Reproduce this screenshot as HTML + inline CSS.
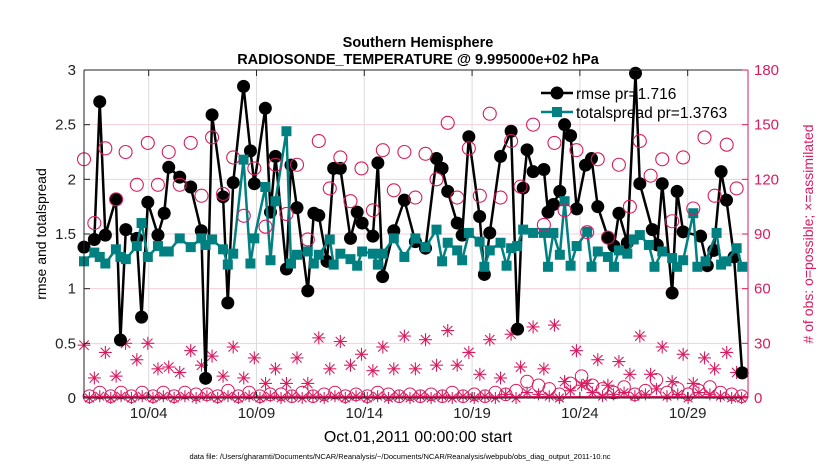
<!DOCTYPE html>
<html><head><meta charset="utf-8"><style>
html,body{margin:0;padding:0;background:#fff;}
svg{display:block;font-family:"Liberation Sans",Arial,sans-serif;}
</style></head><body>
<svg id="chart" width="830" height="470" viewBox="0 0 830 470" xmlns="http://www.w3.org/2000/svg">
<rect x="0" y="0" width="830" height="470" fill="#fff"/>
<g id="grid"></g>
<g id="marks"></g>
<g id="axes"></g>
<text x="418" y="47" text-anchor="middle" font-size="14.5" font-weight="bold">Southern Hemisphere</text>
<text x="418" y="64" text-anchor="middle" font-size="14.5" font-weight="bold">RADIOSONDE_TEMPERATURE @ 9.995000e+02 hPa</text>
<text transform="translate(46,234) rotate(-90)" text-anchor="middle" font-size="14">rmse and totalspread</text>
<text transform="translate(813,234) rotate(-90)" text-anchor="middle" font-size="14" fill="#d81b60"># of obs: o=possible; ×=assimilated</text>
<text x="418" y="442" text-anchor="middle" font-size="16">Oct.01,2011 00:00:00 start</text>
<text x="400" y="459" text-anchor="middle" font-size="7.5">data file: /Users/gharamti/Documents/NCAR/Reanalysis/~/Documents/NCAR/Reanalysis/webpub/obs_diag_output_2011-10.nc</text>
<g id="legend"></g>
</svg>
<script>
const rmseDays=[0,0.48,0.73,0.99,1.48,1.69,1.94,2.45,2.67,2.96,3.43,3.72,3.93,4.44,4.95,5.44,5.64,5.94,6.45,6.67,6.92,7.40,7.72,7.90,8.41,8.65,8.88,9.39,9.60,9.88,10.38,10.66,10.89,11.27,11.58,11.89,12.36,12.67,12.90,13.40,13.63,13.85,14.37,14.86,15.37,15.84,16.35,16.61,16.87,17.31,17.54,17.85,18.35,18.57,18.82,19.32,19.81,20.11,20.37,20.55,20.83,21.33,21.52,21.77,22.07,22.29,22.57,22.85,23.26,23.54,23.83,24.30,24.58,24.81,25.20,25.58,25.78,26.36,26.59,26.82,27.28,27.51,27.79,28.60,28.91,29.21,29.55,29.80,30.15,30.53];
const rmseVals=[1.38,1.45,2.71,1.49,1.82,0.53,1.54,1.46,0.74,1.79,1.49,1.69,2.11,2.02,1.93,1.53,0.18,2.59,1.84,0.87,1.97,2.85,2.26,1.96,2.65,1.70,2.21,1.18,2.13,1.74,0.98,1.69,1.67,1.25,2.10,2.10,1.46,1.70,1.60,1.48,2.15,1.11,1.53,1.81,1.43,1.37,2.19,2.10,1.89,1.60,1.49,2.39,1.66,1.13,1.51,2.21,2.44,0.63,1.92,2.27,2.07,2.09,1.70,1.77,1.89,2.50,2.40,1.73,2.13,2.19,1.75,1.47,1.39,1.69,1.42,2.97,1.96,1.54,1.40,1.96,0.96,1.89,1.52,1.48,1.21,1.35,2.07,1.81,1.29,0.23];
const spreadDays=[0,0.48,0.73,0.99,1.48,1.69,1.94,2.45,2.67,2.96,3.43,3.72,3.93,4.44,4.95,5.44,5.64,5.94,6.45,6.67,6.92,7.40,7.72,7.90,8.41,8.65,8.88,9.39,9.60,9.88,10.38,10.66,10.89,11.40,11.58,11.89,12.36,12.67,12.90,13.40,13.63,13.85,14.37,14.86,15.37,15.84,16.35,16.61,16.87,17.31,17.54,17.85,18.35,18.57,18.82,19.32,19.60,19.81,20.09,20.37,20.83,21.33,21.52,21.77,22.07,22.29,22.57,22.85,23.34,23.54,23.83,24.30,24.58,24.81,25.20,25.50,25.78,26.20,26.46,26.82,27.28,27.51,27.79,28.26,28.45,28.83,29.34,29.55,29.80,30.27,30.53];
const spreadVals=[1.25,1.33,1.29,1.23,1.36,1.29,1.27,1.39,1.60,1.29,1.39,1.34,1.34,1.46,1.38,1.46,1.40,1.45,1.36,1.22,1.32,2.18,1.23,1.46,1.93,1.26,1.80,2.44,1.23,1.31,1.34,1.23,1.31,1.45,1.22,1.32,1.27,1.21,1.34,1.32,1.22,1.32,1.46,1.29,1.46,1.38,1.54,1.25,1.42,1.35,1.26,1.51,1.43,1.20,1.35,1.42,1.21,1.37,1.39,1.54,1.51,1.51,1.20,1.51,1.31,1.80,1.21,1.39,1.52,1.20,1.34,1.29,1.20,1.35,1.32,1.45,1.49,1.40,1.20,1.34,1.28,1.20,1.26,1.69,1.20,1.25,1.51,1.22,1.25,1.37,1.20];
const obsDays=[0,0.48,0.99,1.49,1.93,2.45,2.96,3.43,3.93,4.44,4.95,5.45,5.94,6.45,6.92,7.41,7.90,8.42,8.88,9.39,9.88,10.38,10.89,11.40,11.89,12.36,12.87,13.40,13.86,14.37,14.86,15.37,15.84,16.35,16.87,17.31,17.85,18.36,18.82,19.32,19.81,20.25,20.83,21.33,21.82,22.29,22.84,23.34,23.83,24.30,24.81,25.32,25.78,26.28,26.82,27.28,27.79,28.26,28.78,29.25,29.81,30.27];
const possibleVals=[131,96,137,109,135,117,140,117,135,117,140,111,143,112,132,100,126,94,128,101,128,87,141,115,132,108,126,103,136,114,135,110,134,120,151,110,137,111,156,110,141,116,150,95,140,103,136,91,131,88,128,105,141,122,131,97,132,104,143,111,139,115];
const assimVals=[29,11,25,12,30,21,30,16,17,14,26,18,23,12,28,11,22,8,16,8,22,8,33,16,31,18,24,15,28,16,34,16,32,18,37,18,25,13,32,11,35,17,39,16,40,9,26,8,21,7,20,13,34,13,28,9,24,8,22,16,25,14];
const lowDays=[0.25,0.73,1.24,1.72,2.2,2.7,3.2,3.68,4.18,4.68,5.2,5.7,6.2,6.68,7.16,7.66,8.16,8.64,9.14,9.64,10.12,10.62,11.14,11.64,12.12,12.62,13.14,13.62,14.12,14.62,15.12,15.6,16.1,16.62,17.08,17.58,18.1,18.6,19.08,19.56,20.04,20.55,21.08,21.58,22.05,22.56,23.08,23.58,24.05,24.56,25.05,25.55,26.04,26.55,27.04,27.54,28.02,28.52,29.03,29.52,30.04,30.5];
const lowPossibleVals=[1,3,1,3,1,3,1,3,1,3,2,2,1,4,1,3,1,2,2,1,3,1,2,3,1,2,1,3,2,1,2,1,2,1,3,1,2,1,3,2,4,9,7,5,2,8,12,7,5,3,6,2,4,10,3,5,2,4,6,3,2,1];
const lowAssimVals=[0,1,0,1,0,1,0,1,0,1,0,1,0,1,0,1,0,1,0,1,0,1,0,1,0,1,0,1,0,1,0,1,0,1,0,1,0,1,0,2,0,3,2,1,0,4,7,3,1,2,3,1,2,5,1,2,0,3,2,1,0,0];
const leftTicks=[0,0.5,1,1.5,2,2.5,3];
const leftTickLabels=["0","0.5","1","1.5","2","2.5","3"];
const rightTicks=[0,30,60,90,120,150,180];
const xTickDays=[3,8,13,18,23,28];
const xTickLabels=["10/04","10/09","10/14","10/19","10/24","10/29"];

const PL=84,PR=748,PT=70,PB=398,PINK="#d81b60",TEAL="#008080";
const NS="http://www.w3.org/2000/svg";
function X(d){return PL+d*21.56;}
function YL(v){return PB-v*(PB-PT)/3;}
function YR(c){return PB-c*(PB-PT)/180;}
function mk(tag,attrs,parent){const e=document.createElementNS(NS,tag);for(const k in attrs)e.setAttribute(k,attrs[k]);parent.appendChild(e);return e;}
const grid=document.getElementById('grid'),marks=document.getElementById('marks'),axes=document.getElementById('axes'),legend=document.getElementById('legend');

xTickDays.forEach(d=>{const l=mk('line',{x1:X(d),x2:X(d),y1:PT,y2:PB,stroke:'#dcdcdc','stroke-width':1},grid);

});
rightTicks.forEach(c=>{if(c===0||c===180)return;const l=mk('line',{x1:PL,x2:PR,y1:YR(c),y2:YR(c),stroke:'#f5cfdc','stroke-width':1},grid);

});

function star(cx,cy,s,p){const g=mk('g',{stroke:PINK,'stroke-width':1.1},p);
mk('line',{x1:cx-s,x2:cx+s,y1:cy,y2:cy},g);mk('line',{x1:cx,x2:cx,y1:cy-s,y2:cy+s},g);
const t=s*0.72;mk('line',{x1:cx-t,x2:cx+t,y1:cy-t,y2:cy+t},g);mk('line',{x1:cx-t,x2:cx+t,y1:cy+t,y2:cy-t},g);return g;}

const bl=mk('line',{x1:PL,x2:PR,y1:PB-1,y2:PB-1,stroke:PINK,'stroke-width':2},marks);



lowDays.forEach((d,i)=>{const c=mk('circle',{cx:X(d),cy:YR(lowPossibleVals[i]),r:6.3,fill:'none',stroke:PINK,'stroke-width':1},marks);


const s=star(X(d),YR(lowAssimVals[i]),6,marks);

});
obsDays.forEach((d,i)=>{const s=star(X(d),YR(assimVals[i]),6.5,marks);

});

const rl=mk('polyline',{points:rmseDays.map((d,i)=>X(d)+','+YL(rmseVals[i])).join(' '),fill:'none',stroke:'#000','stroke-width':2.5},marks);


rmseDays.forEach((d,i)=>{const c=mk('circle',{cx:X(d),cy:YL(rmseVals[i]),r:6.5,fill:'#000'},marks);

});
const sl=mk('polyline',{points:spreadDays.map((d,i)=>X(d)+','+YL(spreadVals[i])).join(' '),fill:'none',stroke:TEAL,'stroke-width':2.5},marks);


spreadDays.forEach((d,i)=>{const r=mk('rect',{x:X(d)-5,y:YL(spreadVals[i])-5,width:10,height:10,fill:TEAL},marks);

});
obsDays.forEach((d,i)=>{const c=mk('circle',{cx:X(d),cy:YR(possibleVals[i]),r:6.5,fill:'none',stroke:PINK,'stroke-width':1.1},marks);

});

mk('line',{x1:PL,x2:PR,y1:PT,y2:PT,stroke:'#222','stroke-width':1},axes);
mk('line',{x1:PL,x2:PR,y1:PB,y2:PB,stroke:'#222','stroke-width':1},axes);
mk('line',{x1:PL,x2:PL,y1:PT,y2:PB,stroke:'#222','stroke-width':1},axes);
mk('line',{x1:PR,x2:PR,y1:PT,y2:PB,stroke:PINK,'stroke-width':1},axes);
leftTicks.forEach((v,i)=>{mk('line',{x1:PL,x2:PL+6,y1:YL(v),y2:YL(v),stroke:'#222'},axes);
const t=mk('text',{x:PL-8,y:YL(v)+5,'text-anchor':'end','font-size':15,fill:'#222'},axes);t.textContent=leftTickLabels[i];

});
rightTicks.forEach(c=>{mk('line',{x1:PR-6,x2:PR,y1:YR(c),y2:YR(c),stroke:PINK},axes);
const t=mk('text',{x:PR+6,y:YR(c)+5,'font-size':15,fill:PINK},axes);t.textContent=String(c);

});
xTickDays.forEach((d,i)=>{mk('line',{x1:X(d),x2:X(d),y1:PB,y2:PB-6,stroke:'#222'},axes);mk('line',{x1:X(d),x2:X(d),y1:PT,y2:PT+6,stroke:'#222'},axes);
const t=mk('text',{x:X(d),y:418,'text-anchor':'middle','font-size':15,fill:'#222'},axes);t.textContent=xTickLabels[i];

});

const lg1=mk('g',{},legend);


mk('line',{x1:541,x2:573,y1:93,y2:93,stroke:'#000','stroke-width':2.5},lg1);
mk('circle',{cx:557,cy:93,r:6.5,fill:'#000'},lg1);
const t1=mk('text',{x:576,y:99,'font-size':15.5,fill:'#000'},lg1);t1.textContent='rmse pr=1.716';
const lg2=mk('g',{},legend);


mk('line',{x1:541,x2:573,y1:112,y2:112,stroke:TEAL,'stroke-width':2.5},lg2);
mk('rect',{x:552,y:107,width:10,height:10,fill:TEAL},lg2);
const t2=mk('text',{x:576,y:118,'font-size':15.5,fill:'#000'},lg2);t2.textContent='totalspread pr=1.3763';
</script>
</body></html>
